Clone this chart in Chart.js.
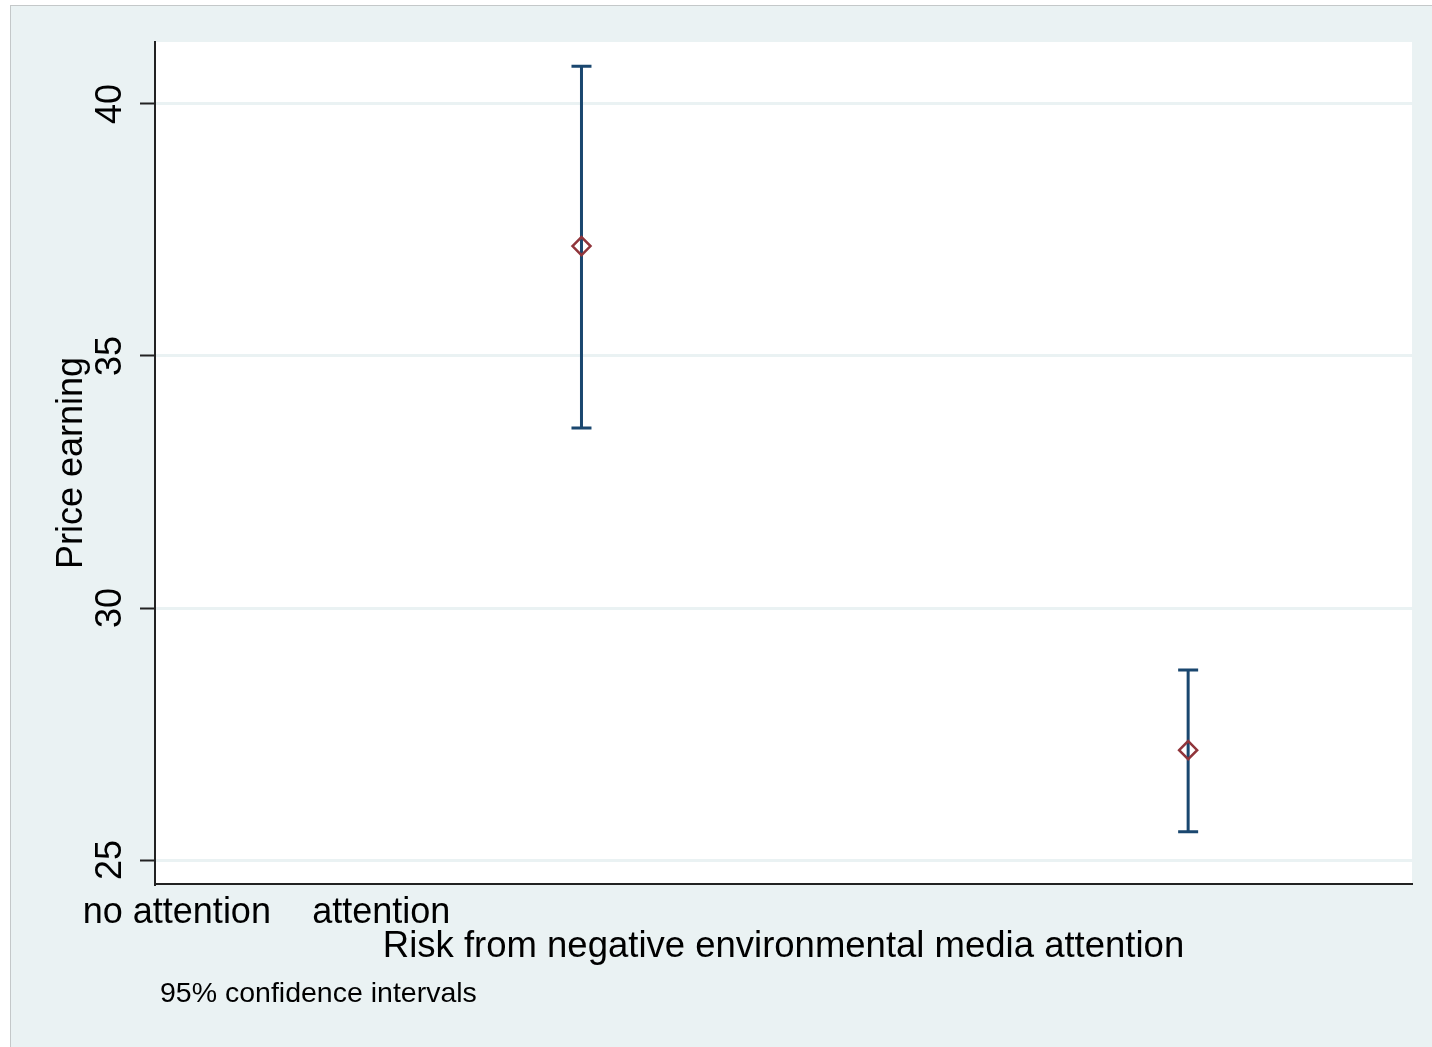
<!DOCTYPE html>
<html>
<head>
<meta charset="utf-8">
<title>Price earning by media attention</title>
<script src="https://cdn.jsdelivr.net/npm/chart.js@4.4.1/dist/chart.umd.min.js"></script>
<style>
  html, body { margin: 0; padding: 0; background: #fff; }
  body { width: 1432px; height: 1047px; position: relative; overflow: hidden; }
  .frame { position: absolute; left: 10px; top: 5px; right: 0; bottom: 0;
           background: #EAF2F3; border-top: 1px solid #c4c8c9; border-left: 1px solid #c4c8c9; }
  #chart { position: absolute; left: 0; top: 0; }
</style>
</head>
<body>
<div class="frame"></div>
<canvas id="chart" width="1432" height="1047"></canvas>
<script>
// Данные
const groupLabels = ['no attention', 'attention'];
const groupTickPos = [0.333, 0.67];     // где Stata поставила подписи оси X
const pointX = [1, 2];                  // где стоят сами точки
const means = [37.18, 27.18];
const ciLow = [33.57, 25.56];
const ciHigh = [40.75, 28.77];
const yTicks = [25, 30, 35, 40];

const xTitle = 'Risk from negative environmental media attention';
const yTitle = 'Price earning';
const note = '95% confidence intervals';

const FONT = "'Liberation Sans', Arial, sans-serif";
const NAVY = '#1a476f';
const MAROON = '#90353b';

// Белая область графика
const plotBg = {
    id: 'plotBg',
    beforeDraw(chart) {
        const { ctx, chartArea: a } = chart;
        ctx.save();
        ctx.fillStyle = '#ffffff';
        ctx.fillRect(a.left, a.top, a.right - a.left, a.bottom - a.top);
        ctx.restore();
    }
};

// Доверительные интервалы
const errorBars = {
    id: 'errorBars',
    beforeDatasetsDraw(chart) {
        const { ctx, scales: { x, y } } = chart;
        ctx.save();
        ctx.strokeStyle = NAVY;
        ctx.lineWidth = 3;
        ctx.lineCap = 'butt';
        for (let i = 0; i < pointX.length; i++) {
            const px = x.getPixelForValue(pointX[i]);
            const yl = y.getPixelForValue(ciLow[i]);
            const yh = y.getPixelForValue(ciHigh[i]);
            ctx.beginPath();
            ctx.moveTo(px, yl); ctx.lineTo(px, yh);
            ctx.moveTo(px - 10, yl); ctx.lineTo(px + 10, yl);
            ctx.moveTo(px - 10, yh); ctx.lineTo(px + 10, yh);
            ctx.stroke();
        }
        ctx.restore();
    }
};

// Подпись внизу
const footNote = {
    id: 'footNote',
    afterDraw(chart) {
        const ctx = chart.ctx;
        ctx.save();
        ctx.font = '28.5px ' + FONT;
        ctx.fillStyle = '#000';
        ctx.textBaseline = 'alphabetic';
        ctx.textAlign = 'left';
        ctx.fillText(note, 160, 1002);
        ctx.restore();
    }
};

new Chart(document.getElementById('chart'), {
    type: 'scatter',
    data: {
        datasets: [{
            data: pointX.map((v, i) => ({ x: v, y: means[i] })),
            pointStyle: 'rectRot',
            pointRadius: 9,
            pointHoverRadius: 9,
            borderWidth: 2.5,
            borderColor: MAROON,
            backgroundColor: 'rgba(0,0,0,0)'
        }]
    },
    options: {
        responsive: false,
        animation: false,
        events: [],
        layout: { padding: { top: 42, right: 20, left: 0, bottom: 0 } },
        plugins: { legend: { display: false }, tooltip: { enabled: false } },
        scales: {
            x: {
                type: 'linear',
                min: 0.297,
                max: 2.369,
                afterBuildTicks: axis => { axis.ticks = groupTickPos.map(v => ({ value: v })); },
                afterFit: axis => { axis.height = 163; },
                grid: { display: false, drawTicks: false },
                border: { display: true, color: '#222', width: 2 },
                ticks: {
                    autoSkip: false,
                    maxRotation: 0,
                    padding: 7,
                    color: '#000',
                    font: { family: FONT, size: 36 },
                    callback: (v, i) => groupLabels[i]
                },
                title: {
                    display: true,
                    text: xTitle,
                    color: '#000',
                    font: { family: FONT, size: 36.5 },
                    padding: { top: 0, bottom: 78 }
                }
            },
            y: {
                min: 24.524,
                max: 41.23,
                afterBuildTicks: axis => { axis.ticks = yTicks.map(v => ({ value: v })); },
                afterFit: axis => { axis.width = 155; },
                grid: {
                    color: '#EAF2F3',
                    lineWidth: 3,
                    tickColor: '#222',
                    tickWidth: 2,
                    tickLength: 15
                },
                border: { display: true, color: '#222', width: 2 },
                ticks: {
                    minRotation: 90,
                    maxRotation: 90,
                    crossAlign: 'center',
                    padding: 9,
                    color: '#000',
                    font: { family: FONT, size: 36 }
                },
                title: {
                    display: true,
                    text: yTitle,
                    color: '#000',
                    font: { family: FONT, size: 36 },
                    padding: { top: 50, bottom: 0 }
                }
            }
        }
    },
    plugins: [plotBg, errorBars, footNote]
});
</script>
</body>
</html>
